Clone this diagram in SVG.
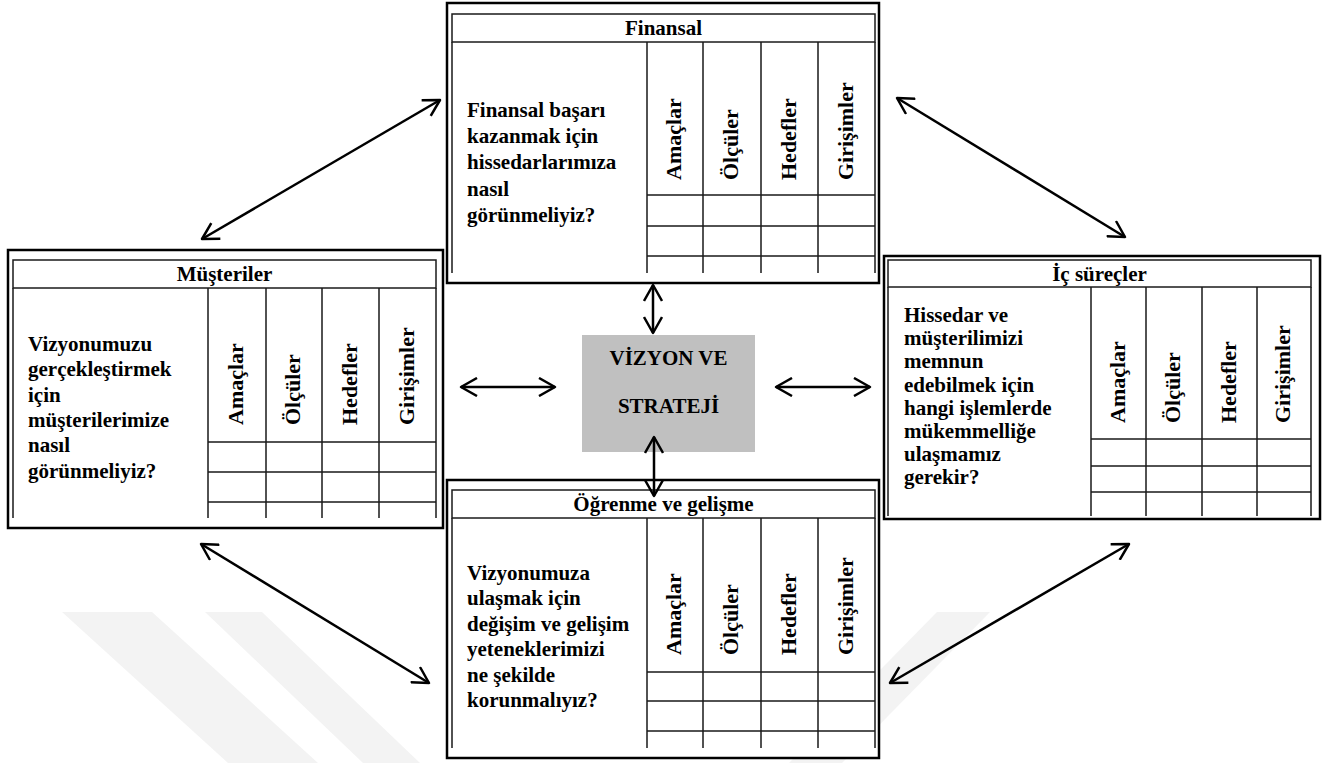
<svg xmlns="http://www.w3.org/2000/svg" width="1330" height="763" viewBox="0 0 1330 763">
  <style>
    .frame { fill: #fff; stroke: #000; stroke-width: 2.5; }
    .head { fill: #fff; stroke: #1a1a1a; stroke-width: 1.5; }
    .grid { fill: none; stroke: #1a1a1a; stroke-width: 1.5; }
    .t { font-family: "Liberation Serif", "Times New Roman", serif; font-weight: bold; font-size: 21px; fill: #000; }
    .v { font-size: 22px; }
    .mid { text-anchor: middle; }
    .core { fill: #c0c0c0; }
    .conn { fill: none; stroke: #000; stroke-width: 2.5; marker-start: url(#ah); marker-end: url(#ah); }
    .mark { fill: #f3f3f3; }
  </style>
  <defs>
    <marker id="ah" viewBox="0 0 20 20" refX="17" refY="10" markerWidth="20" markerHeight="20" markerUnits="userSpaceOnUse" orient="auto-start-reverse">
      <path d="M1,1 L17,10 L1,19" fill="none" stroke="#000" stroke-width="2.5" stroke-linejoin="round"/>
    </marker>
  </defs>

  <rect width="1330" height="763" fill="#fff"/>

  <!-- faint background emblem -->
  <g id="emblem">
    <polygon class="mark" points="62,612 152,612 318,763 228,763"/>
    <polygon class="mark" points="205,612 262,612 420,763 363,763"/>
    <polygon class="mark" points="937,612 990,612 842,763 789,763"/>
  </g>

  <!-- Finansal -->
  <g id="finansal">
    <rect class="frame" x="447" y="3" width="432" height="280"/>
    <rect class="head" x="452" y="14" width="423" height="28"/>
    <path class="grid" d="M452,42V273M647,42V273M703,42V273M761,42V273M818,42V273M875,42V273M647,195H875M647,226H875M647,256H875"/>
    <text class="t mid" x="663.5" y="35">Finansal</text>
    <text class="t" x="467" y="117">Finansal başarı<tspan x="467" dy="26.2">kazanmak için</tspan><tspan x="467" dy="26.2">hissedarlarımıza</tspan><tspan x="467" dy="26.2">nasıl</tspan><tspan x="467" dy="26.2">görünmeliyiz?</tspan></text>
    <text class="t v" transform="translate(681,180) rotate(-90)">Amaçlar</text>
    <text class="t v" transform="translate(738,180) rotate(-90)">Ölçüler</text>
    <text class="t v" transform="translate(796,180) rotate(-90)">Hedefler</text>
    <text class="t v" transform="translate(853,180) rotate(-90)">Girişimler</text>
  </g>

  <!-- Müşteriler -->
  <g id="musteriler">
    <rect class="frame" x="8" y="250" width="435" height="278"/>
    <rect class="head" x="13" y="260" width="423" height="28"/>
    <path class="grid" d="M13,288V518M208,288V518M266,288V518M322,288V518M379,288V518M436,288V518M208,442H436M208,472H436M208,502H436"/>
    <text class="t mid" x="224.5" y="281">Müşteriler</text>
    <text class="t" x="28" y="351">Vizyonumuzu<tspan x="28" dy="25.3">gerçekleştirmek</tspan><tspan x="28" dy="25.3">için</tspan><tspan x="28" dy="25.3">müşterilerimize</tspan><tspan x="28" dy="25.3">nasıl</tspan><tspan x="28" dy="25.3">görünmeliyiz?</tspan></text>
    <text class="t v" transform="translate(243,425) rotate(-90)">Amaçlar</text>
    <text class="t v" transform="translate(300,425) rotate(-90)">Ölçüler</text>
    <text class="t v" transform="translate(357,425) rotate(-90)">Hedefler</text>
    <text class="t v" transform="translate(414,425) rotate(-90)">Girişimler</text>
  </g>

  <!-- İç süreçler -->
  <g id="ic-surecler">
    <rect class="frame" x="884" y="256" width="436" height="263"/>
    <rect class="head" x="888" y="260" width="423" height="27"/>
    <path class="grid" d="M888,287V516M1091,287V516M1146,287V516M1202,287V516M1257,287V516M1311,287V516M1091,439H1311M1091,466H1311M1091,492H1311"/>
    <text class="t mid" x="1099.5" y="281">İç süreçler</text>
    <text class="t" x="904" y="322">Hissedar ve<tspan x="904" dy="23.2">müşterilimizi</tspan><tspan x="904" dy="23.2">memnun</tspan><tspan x="904" dy="23.2">edebilmek için</tspan><tspan x="904" dy="23.2">hangi işlemlerde</tspan><tspan x="904" dy="23.2">mükemmelliğe</tspan><tspan x="904" dy="23.2">ulaşmamız</tspan><tspan x="904" dy="23.2">gerekir?</tspan></text>
    <text class="t v" transform="translate(1125,423) rotate(-90)">Amaçlar</text>
    <text class="t v" transform="translate(1180,423) rotate(-90)">Ölçüler</text>
    <text class="t v" transform="translate(1236,423) rotate(-90)">Hedefler</text>
    <text class="t v" transform="translate(1290,423) rotate(-90)">Girişimler</text>
  </g>

  <!-- Öğrenme ve gelişme -->
  <g id="ogrenme">
    <rect class="frame" x="447" y="480" width="432" height="278"/>
    <rect class="head" x="452" y="490" width="423" height="28"/>
    <path class="grid" d="M452,518V748M647,518V748M703,518V748M761,518V748M818,518V748M875,518V748M647,672H875M647,701H875M647,731H875"/>
    <text class="t mid" x="663.5" y="511">Öğrenme ve gelişme</text>
    <text class="t" x="467" y="580">Vizyonumuza<tspan x="467" dy="25.4">ulaşmak için</tspan><tspan x="467" dy="25.4">değişim ve gelişim</tspan><tspan x="467" dy="25.4">yeteneklerimizi</tspan><tspan x="467" dy="25.4">ne şekilde</tspan><tspan x="467" dy="25.4">korunmalıyız?</tspan></text>
    <text class="t v" transform="translate(681,655) rotate(-90)">Amaçlar</text>
    <text class="t v" transform="translate(738,655) rotate(-90)">Ölçüler</text>
    <text class="t v" transform="translate(796,655) rotate(-90)">Hedefler</text>
    <text class="t v" transform="translate(853,655) rotate(-90)">Girişimler</text>
  </g>

  <!-- Vizyon ve strateji -->
  <g id="vizyon">
    <rect class="core" x="582" y="335" width="173" height="117"/>
    <text class="t mid" x="668.5" y="365" fill="#111">VİZYON VE</text>
    <text class="t mid" x="668.5" y="413" fill="#111">STRATEJİ</text>
  </g>

  <!-- two-way links -->
  <g id="connectors">
    <path class="conn" d="M653,285V333"/>
    <path class="conn" d="M654,437V496"/>
    <path class="conn" d="M461,387H555"/>
    <path class="conn" d="M776,387H870"/>
    <path class="conn" d="M202,239L440,100"/>
    <path class="conn" d="M897,98L1125,237"/>
    <path class="conn" d="M201,544L429,683"/>
    <path class="conn" d="M890,683L1129,544"/>
  </g>
</svg>
